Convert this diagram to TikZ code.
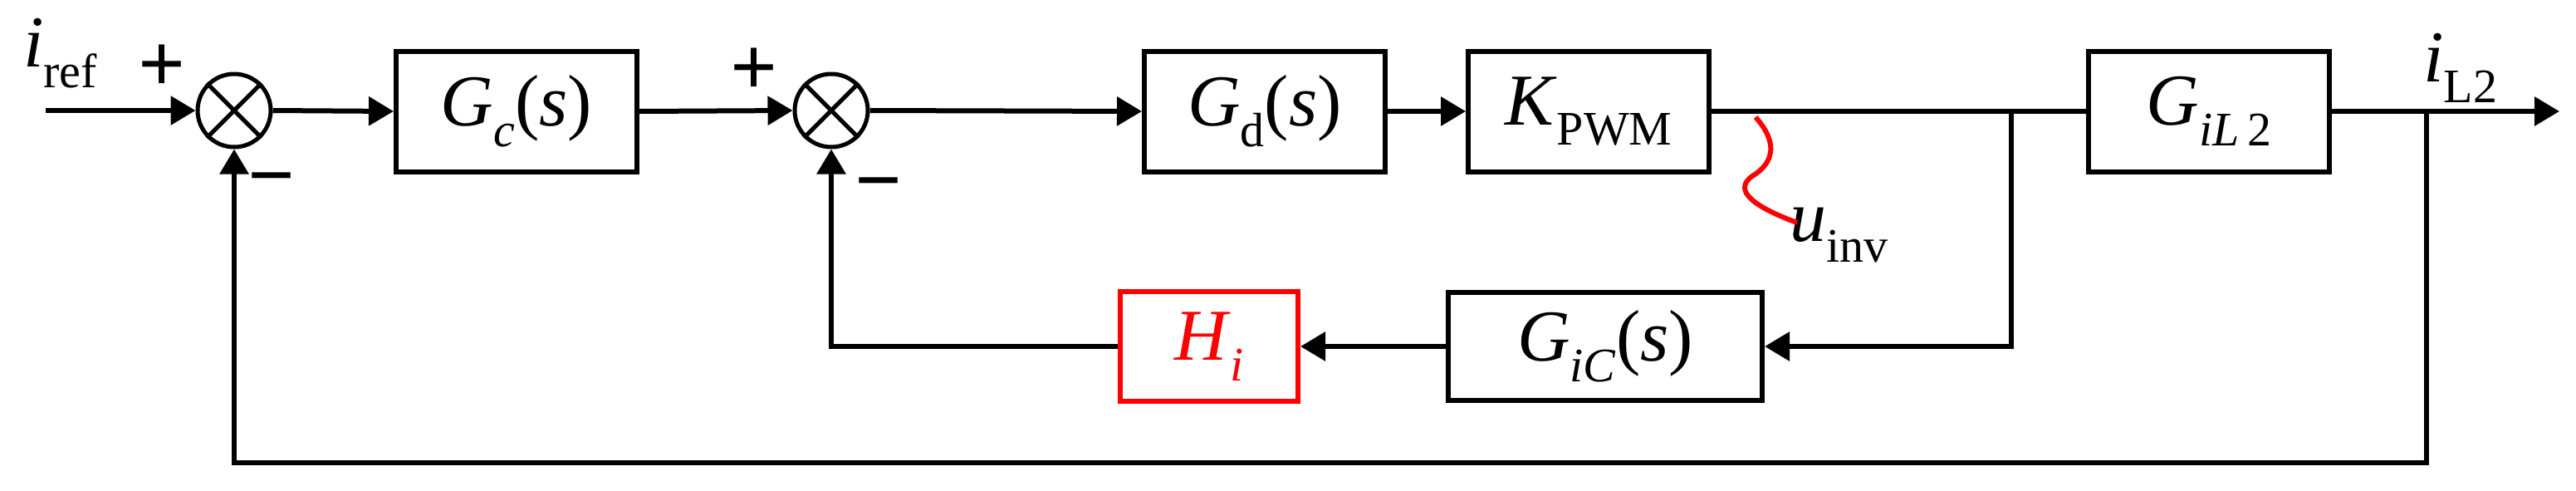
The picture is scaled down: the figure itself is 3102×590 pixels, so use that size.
\documentclass[tikz,border=0pt]{standalone}
\usepackage{fontspec}
\setmainfont{Liberation Serif}
\usetikzlibrary{arrows.meta}
\begin{document}
\begin{tikzpicture}[x=1pt,y=-1pt,
  blk/.style={draw,line width=6pt,inner sep=0pt,font=\fontsize{88}{90}\selectfont},
  sumn/.style={draw,circle,line width=5pt,minimum size=88pt,inner sep=0pt},
  ln/.style={line width=6pt},
  arr/.style={line width=6pt,-{Triangle[length=30pt,width=34pt]}},
  lbl/.style={font=\fontsize{88}{90}\selectfont,inner sep=0pt},
  sg/.style={font=\fontsize{100}{100}\selectfont\bfseries,inner sep=0pt}]
\newcommand{\sbs}[1]{\raisebox{-0.28em}{\fontsize{58}{60}\selectfont #1}}
\useasboundingbox (0,0) rectangle (3102,590);
% sums
\node[sumn] (s1) at (282,133) {};
\node[sumn] (s2) at (1001,133) {};
\draw[line width=5pt] (s1.north west)--(s1.south east) (s1.north east)--(s1.south west);
\draw[line width=5pt] (s2.north west)--(s2.south east) (s2.north east)--(s2.south west);
% blocks
\node[blk,minimum width=290pt,minimum height=145pt] (gc) at (622,134) {\textit{G}\sbs{\textit{c}}(\textit{s})};
\node[blk,minimum width=290pt,minimum height=145pt] (gd) at (1523,134) {\textit{G}\sbs{d}(\textit{s})};
\node[blk,minimum width=290pt,minimum height=145pt] (kp) at (1913,134) {\textit{K}\sbs{PWM}};
\node[blk,minimum width=290pt,minimum height=145pt] (gl) at (2660,134) {\textit{G}\sbs{\textit{iL}\,2}};
\node[blk,minimum width=378pt,minimum height=130pt] (gic) at (1933,417) {\textit{G}\sbs{\textit{iC}}(\textit{s})};
\node[blk,draw=red,text=red,minimum width=214pt,minimum height=132pt] (hi) at (1456,417) {\textit{H}\sbs{\textit{i}}};
% labels
\node[lbl,anchor=north west] (iref) at (28,22) {\textit{i}\sbs{ref}};
\node[lbl,anchor=north west] (il2) at (2918,40) {\textit{i}\sbs{L2}};
\node[lbl,anchor=north west] (uinv) at (2155,250) {\textit{u}\sbs{inv}};
\node[sg] (p1) at (195,82) {+};
\node[sg] (p2) at (908,86) {+};
\node[sg] (m1) at (327,226) {\textminus};
\node[sg] (m2) at (1058,232) {\textminus};
% coordinates
\coordinate (in) at (55,133);
\coordinate (j1) at (2422,134);
\coordinate (j2) at (2922,134);
\coordinate (out) at (3082,134);
\coordinate (w0) at (2114,141);
% forward path
\draw[arr] (in) -- (s1.west);
\draw[arr] (s1.east) -- (gc.west);
\draw[arr] (gc.east) -- (s2.west);
\draw[arr] (s2.east) -- (gd.west);
\draw[arr] (gd.east) -- (kp.west);
\draw[ln] (kp.east) -- (gl.west);
\draw[arr] (gl.east) -- (out);
% inner loop
\draw[arr] (j1) |- (gic.east);
\draw[arr] (gic.west) -- (hi.east);
\draw[arr] (hi.west) -| (s2.south);
% outer loop
\draw[arr] (j2) |- (282,557) -- (s1.south);
% wave
\draw[red,line width=6pt] (w0) .. controls (2140,170) and (2138,195) .. (2110,212) .. controls (2085,230) and (2115,250) .. (2164,268);
\end{tikzpicture}
\end{document}
